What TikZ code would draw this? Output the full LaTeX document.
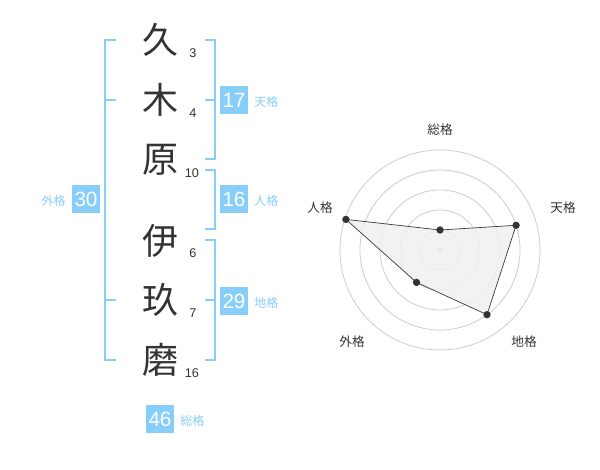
\documentclass[tikz,border=0pt]{standalone}
\usepackage{fontspec}
\setmainfont{Liberation Sans}
\newfontfamily\jp{Noto Sans CJK JP}
\definecolor{sky}{HTML}{87CEFA}
\definecolor{ink}{HTML}{333333}
\definecolor{ring}{HTML}{CCCCCC}
\definecolor{area}{HTML}{F0F0F0}
\begin{document}
\begin{tikzpicture}[x=0.75pt,y=-0.75pt,
  kanji/.style={font=\jp\fontsize{27}{27}\selectfont,text=ink,inner sep=0pt},
  stroke/.style={font=\fontsize{9.5}{10}\selectfont,text=ink,inner sep=0pt},
  numbox/.style={fill=sky,text=white,minimum width=21pt,minimum height=21pt,inner sep=0pt,font=\fontsize{15.5}{15.5}\selectfont},
  kaku/.style={font=\jp\fontsize{9}{9}\selectfont,text=sky,inner sep=0pt},
  brk/.style={draw=sky,line width=1.5pt},
  axlabel/.style={font=\jp\fontsize{9.5}{10}\selectfont,text=ink,inner sep=0pt},
  dot/.style={circle,fill=ink,inner sep=0pt,minimum size=5.5pt},
]
\useasboundingbox (0,0) rectangle (600,470);
% kanji
\node[kanji] (k1) at (160,40) {久};
\node[kanji] (k2) at (160,100) {木};
\node[kanji] (k3) at (160,160) {原};
\node[kanji] (k4) at (160,241) {伊};
\node[kanji] (k5) at (160,300) {玖};
\node[kanji] (k6) at (160,360) {磨};
% stroke counts
\node[stroke] (n1) at (193,53) {3};
\node[stroke] (n2) at (193,113) {4};
\node[stroke] (n3) at (192,173) {10};
\node[stroke] (n4) at (193,253) {6};
\node[stroke] (n5) at (193,313) {7};
\node[stroke] (n6) at (192,373) {16};
% left bracket
\draw[brk] (116,40) -- (105,40) -- (105,360) -- (116,360);
\draw[brk] (105,100) -- (116,100);
\draw[brk] (105,300) -- (116,300);
% right brackets
\draw[brk] (205,40) -- (215,40) -- (215,159) -- (205,159);
\draw[brk] (215,100) -- (205,100);
\draw[brk] (205,170) -- (215,170) -- (215,229) -- (205,229);
\draw[brk] (205,240) -- (215,240) -- (215,360) -- (205,360);
\draw[brk] (215,300) -- (205,300);
% boxes
\node[numbox] (b30) at (86,199) {30};
\node[kaku,anchor=east] (l30) at (66,201) {外格};
\node[numbox] (b17) at (234,100) {17};
\node[kaku,anchor=west] (l17) at (254,102) {天格};
\node[numbox] (b16) at (234,199) {16};
\node[kaku,anchor=west] (l16) at (254,201) {人格};
\node[numbox] (b29) at (234,301) {29};
\node[kaku,anchor=west] (l29) at (254,303) {地格};
\node[numbox] (b46) at (160,419) {46};
\node[kaku,anchor=west] (l46) at (180,421) {総格};
% radar chart
\coordinate (c) at (440,250);
\foreach \r in {20,40,60,80,100} \draw[ring,line width=0.6pt] (c) circle[radius=\r];
\fill[ring] (c) circle[radius=3.5];
\path (c) ++(0,-20) coordinate (pS);
\path (c) ++(76.1,-24.7) coordinate (pT);
\path (c) ++(47.0,64.7) coordinate (pC);
\path (c) ++(-23.5,32.4) coordinate (pG);
\path (c) ++(-94.1,-30.6) coordinate (pJ);
\filldraw[fill=area,fill opacity=0.85,draw=ink,line width=0.5pt] (pJ) -- (pS) -- (pT) -- (pC) -- (pG) -- cycle;
\node[dot] (dS) at (pS) {};
\node[dot] (dT) at (pT) {};
\node[dot] (dC) at (pC) {};
\node[dot] (dG) at (pG) {};
\node[dot] (dJ) at (pJ) {};
\node[axlabel] (aS) at (440,130) {総格};
\node[axlabel] (aT) at (563,208) {天格};
\node[axlabel] (aC) at (524,342) {地格};
\node[axlabel] (aG) at (352,342) {外格};
\node[axlabel] (aJ) at (320,208) {人格};
\end{tikzpicture}
\end{document}
